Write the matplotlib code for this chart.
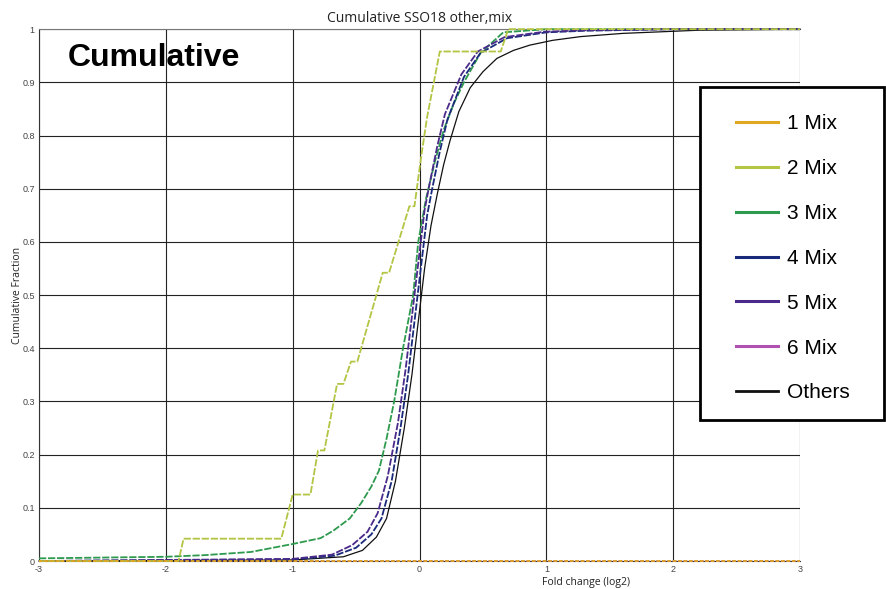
import numpy as np
import matplotlib
matplotlib.use("Agg")
import matplotlib.pyplot as plt
from matplotlib.patches import Rectangle

# fold change (log2) / cumulative fraction
mix1_x = [-3, 3]
mix1_y = [0, 0]

mix2_x = [-3, -1.9, -1.86, -1.09, -1.0, -0.86, -0.80, -0.75, -0.65, -0.60, -0.54, -0.49,
          -0.29, -0.24, -0.08, -0.04, 0.01, 0.06, 0.16, 0.64, 0.70, 3]
mix2_y = [0, 0, 0.042, 0.042, 0.125, 0.125, 0.208, 0.208, 0.333, 0.333, 0.375, 0.375,
          0.542, 0.542, 0.667, 0.667, 0.755, 0.835, 0.958, 0.958, 1.0, 1.0]

mix3_x = [-3, -2, -1.7, -1.33, -1.0, -0.78, -0.68, -0.55, -0.46, -0.38, -0.32, -0.26,
          -0.20, -0.13, -0.05, -0.01, 0.05, 0.12, 0.19, 0.27, 0.35, 0.48, 0.66, 1.0, 3]
mix3_y = [0.005, 0.008, 0.011, 0.017, 0.032, 0.043, 0.057, 0.08, 0.109, 0.14, 0.17, 0.23,
          0.30, 0.40, 0.50, 0.60, 0.68, 0.75, 0.81, 0.86, 0.90, 0.955, 0.994, 1.0, 1.0]

mix4_x = [-3, -1, -0.67, -0.5, -0.38, -0.3, -0.22, -0.15, -0.09, -0.04, 0.01, 0.06, 0.1,
          0.16, 0.22, 0.35, 0.48, 0.69, 1.0, 1.3, 2, 3]
mix4_y = [0, 0.003, 0.01, 0.025, 0.05, 0.08, 0.15, 0.25, 0.35, 0.45, 0.55, 0.65, 0.70,
          0.77, 0.83, 0.91, 0.955, 0.983, 0.994, 0.997, 1, 1]

mix5_x = [-3, -1, -0.69, -0.53, -0.41, -0.33, -0.25, -0.17, -0.11, -0.06, -0.01, 0.04, 0.08,
          0.14, 0.20, 0.33, 0.46, 0.67, 0.98, 1.3, 2, 3]
mix5_y = [0, 0.004, 0.012, 0.03, 0.055, 0.09, 0.16, 0.26, 0.36, 0.46, 0.56, 0.66, 0.71,
          0.78, 0.84, 0.915, 0.958, 0.985, 0.995, 0.998, 1, 1]

mix6_x = [-3, 3]
mix6_y = [0, 0]

others_x = [-3, -1, -0.6, -0.45, -0.34, -0.26, -0.19, -0.12, -0.06, -0.01, 0.04, 0.09, 0.14,
            0.19, 0.24, 0.31, 0.40, 0.50, 0.61, 0.74, 0.87, 1.05, 1.27, 1.6, 2.2, 3]
others_y = [0, 0.002, 0.008, 0.02, 0.045, 0.08, 0.15, 0.25, 0.35, 0.45, 0.55, 0.63, 0.69,
            0.745, 0.79, 0.845, 0.89, 0.92, 0.945, 0.96, 0.97, 0.979, 0.986, 0.992, 0.998, 1]

series = [
    ("1 Mix", mix1_x, mix1_y, "#e0a820", (0, (2, 1))),
    ("2 Mix", mix2_x, mix2_y, "#b4c443", (0, (4, 1))),
    ("3 Mix", mix3_x, mix3_y, "#2e9a4e", (0, (4, 1))),
    ("4 Mix", mix4_x, mix4_y, "#1a2a7a", (0, (4, 1))),
    ("5 Mix", mix5_x, mix5_y, "#4a2a8a", (0, (4, 1))),
    ("6 Mix", mix6_x, mix6_y, "#b050b0", (0, (2, 1))),
    ("Others", others_x, others_y, "#111111", "-"),
]

plt.rcParams["font.family"] = ["Liberation Sans", "DejaVu Sans"]

fig = plt.figure(figsize=(8.86, 5.89), dpi=100)
ax = fig.add_axes([0.044, 0.0475, 0.859, 0.903])

# 6 Mix lies under 1 Mix along zero
zorders = {"6 Mix": 3.0, "Others": 3.1, "3 Mix": 3.2, "4 Mix": 3.3, "5 Mix": 3.4,
           "2 Mix": 3.5, "1 Mix": 3.6}
for name, xs, ys, col, ls in series:
    lw = 0.9 if name == "Others" else 1.3
    ax.plot(xs, ys, color=col, linestyle=ls, linewidth=lw, clip_on=False, zorder=zorders[name])

ax.set_xlim(-3, 3)
ax.set_ylim(0, 1)
ax.set_xticks(np.arange(-3, 4, 1))
ax.set_xticklabels(["-3", "-2", "-1", "0", "1", "2", "3"])
ax.set_yticks(np.arange(0, 1.01, 0.1))
ax.set_yticklabels(["0", "0.1", "0.2", "0.3", "0.4", "0.5", "0.6", "0.7", "0.8", "0.9", "1"])
ax.tick_params(length=0, labelsize=6.5, labelcolor="#444444", pad=3)
ax.grid(True, color="#222222", linewidth=0.8)
ax.set_axisbelow(True)

ax.spines["right"].set_visible(False)
ax.spines["top"].set_color("#777777")
ax.spines["top"].set_linestyle((0, (2, 1)))
ax.spines["left"].set_color("#333333")
ax.spines["bottom"].set_color("#333333")

ax.set_title("Cumulative SSO18 other,mix", fontsize=10, color="#222222",
             family=["Open Sans", "DejaVu Sans"], pad=5)
ax.set_xlabel("Fold change (log2)", fontsize=7.5, color="#222222",
              family=["Open Sans", "DejaVu Sans"])
ax.xaxis.set_label_coords(0.719, -0.03)
ax.set_ylabel("Cumulative Fraction", fontsize=7.5, color="#222222",
              family=["Open Sans", "DejaVu Sans"])
ax.yaxis.set_label_coords(-0.021, 0.5)

fig.text(68 / 886, 1 - 58 / 589, "Cumulative", fontsize=23, fontweight="bold",
         va="center", ha="left")

# legend box
box = Rectangle((700 / 886, 1 - 420 / 589), 184 / 886, 333 / 589, transform=fig.transFigure,
                facecolor="white", edgecolor="black", linewidth=2, zorder=5)
fig.patches.append(box)
handles = []
for name, xs, ys, col, ls in series:
    h, = ax.plot([], [], color=col, linewidth=2.2 if name != "Others" else 2.0, linestyle="-")
    handles.append(h)
leg = fig.legend(handles, [s[0] for s in series], loc="upper left",
                 bbox_to_anchor=(726 / 886, 1 - 104 / 589), frameon=False, fontsize=15,
                 handlelength=2.0, handletextpad=0.45, labelspacing=1.24, borderpad=0)
leg.set_zorder(6)

fig.savefig("out.png", dpi=100)
